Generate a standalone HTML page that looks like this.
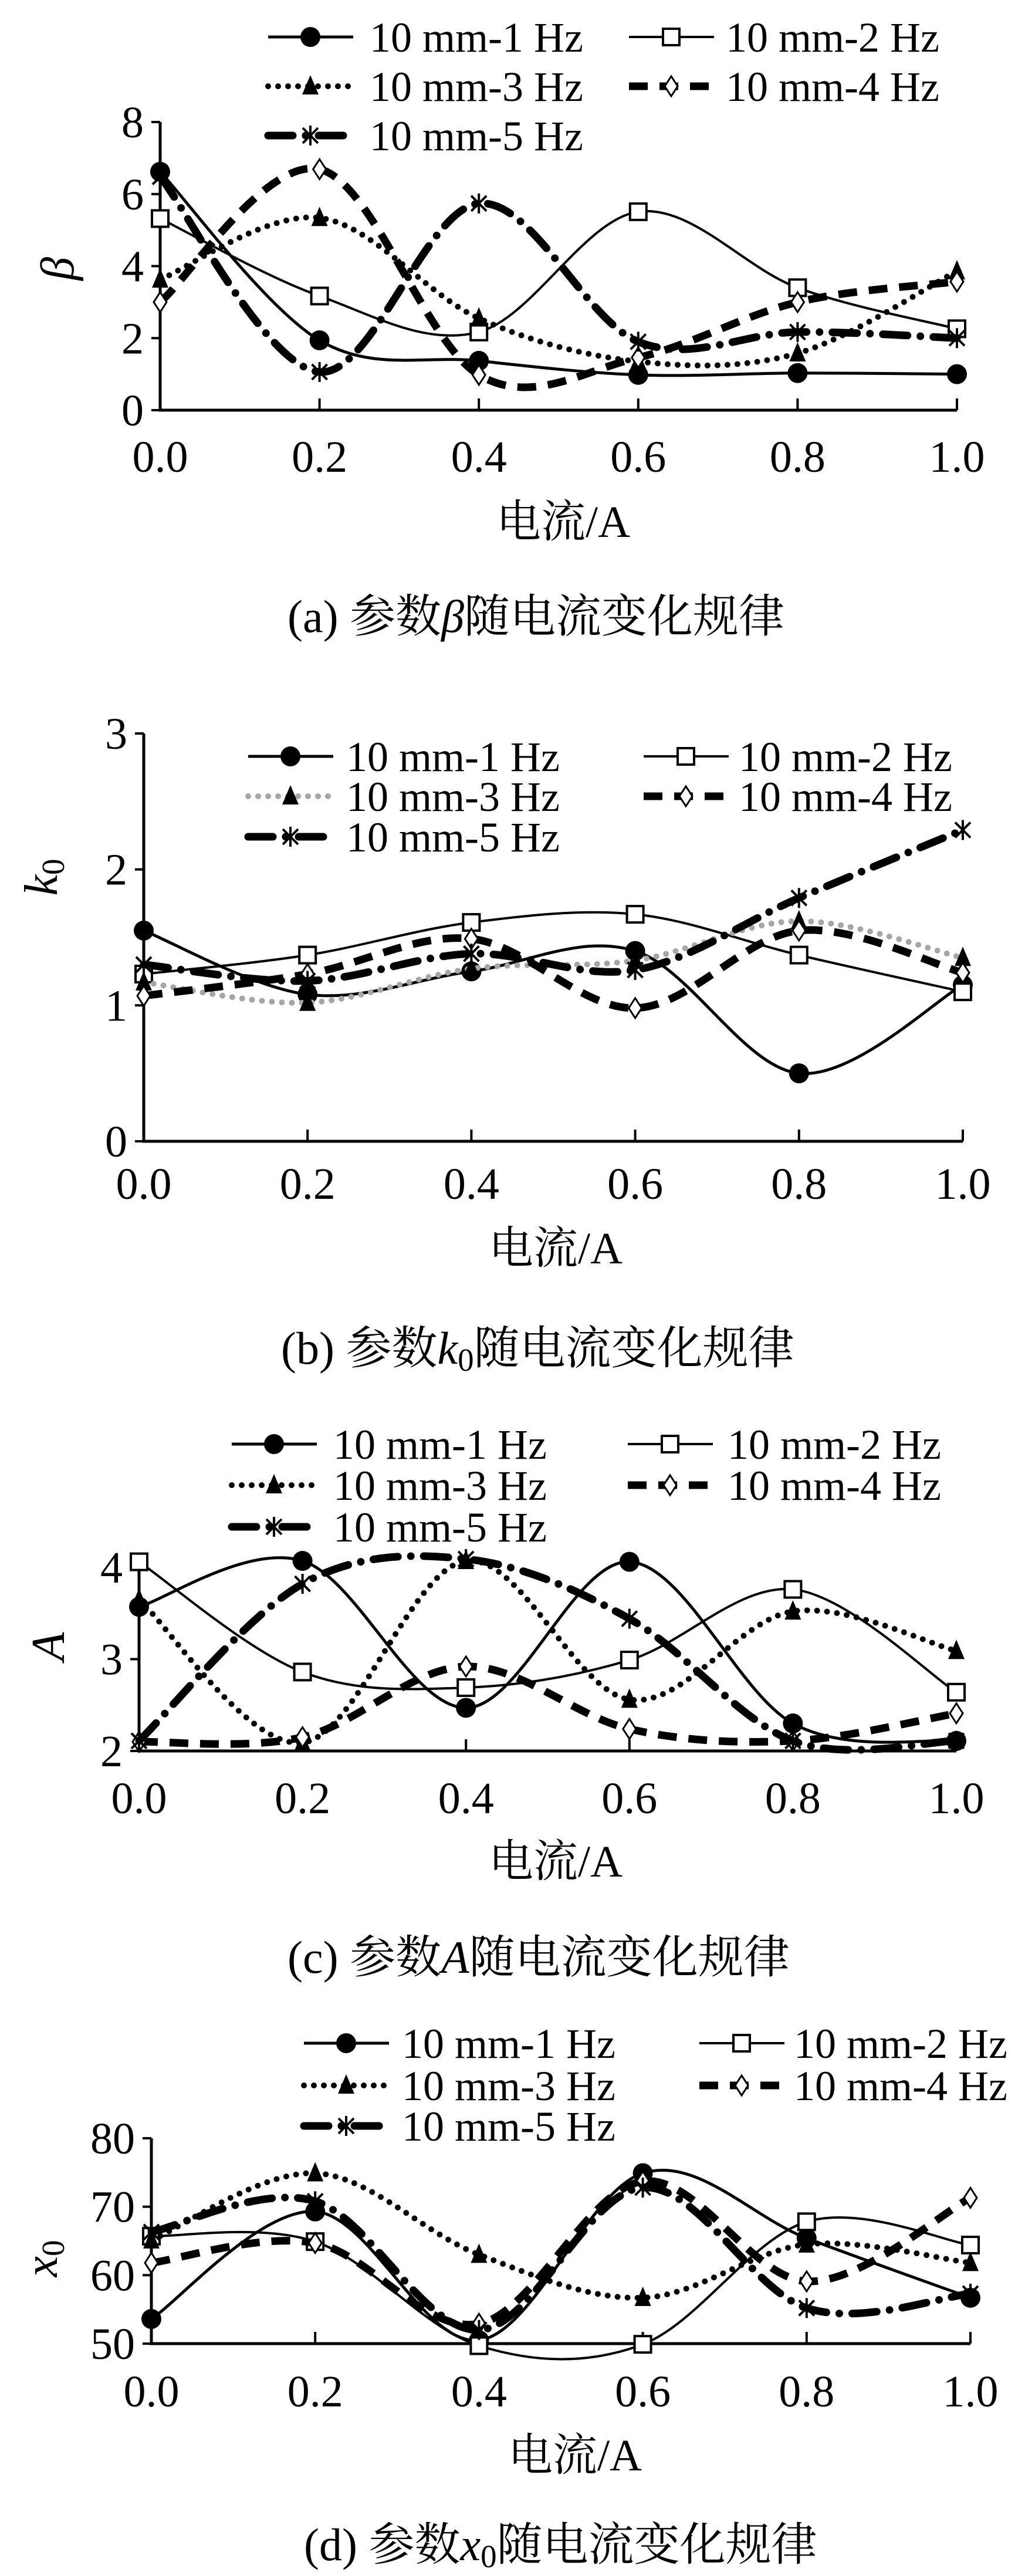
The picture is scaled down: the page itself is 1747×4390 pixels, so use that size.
<!DOCTYPE html>
<html><head><meta charset="utf-8"><style>
html,body{margin:0;padding:0;background:#fff;}
svg{display:block;}
text{font-family:"Liberation Serif","Noto Serif CJK SC","Noto Sans CJK SC",serif;fill:#000;}
</style></head><body>
<svg id="fig" width="1747" height="4390" viewBox="0 0 1747 4390" xmlns="http://www.w3.org/2000/svg"></svg>
<script>
const xCats = [0.0, 0.2, 0.4, 0.6, 0.8, 1.0];
const xTickLabels = ["0.0","0.2","0.4","0.6","0.8","1.0"];
const seriesNames = ["10 mm-1 Hz","10 mm-2 Hz","10 mm-3 Hz","10 mm-4 Hz","10 mm-5 Hz"];

const betaS1 = [6.62, 1.94, 1.37, 0.98, 1.03, 1.0];
const betaS2 = [5.32, 3.17, 2.17, 5.51, 3.4, 2.26];
const betaS3 = [3.63, 5.34, 2.55, 1.35, 1.58, 3.86];
const betaS4 = [3.0, 6.69, 0.98, 1.46, 3.0, 3.57];
const betaS5 = [6.48, 1.06, 5.74, 1.9, 2.17, 2.0];
const betaTicks = [0, 2, 4, 6, 8];

const k0S1 = [1.55, 1.08, 1.25, 1.40, 0.5, 1.15];
const k0S2 = [1.23, 1.37, 1.61, 1.67, 1.37, 1.10];
const k0S3 = [1.17, 1.02, 1.27, 1.33, 1.62, 1.35];
const k0S4 = [1.07, 1.23, 1.49, 0.98, 1.55, 1.24];
const k0S5 = [1.30, 1.18, 1.38, 1.26, 1.79, 2.29];
const k0Ticks = [0, 1, 2, 3];

const aS1 = [3.57, 4.07, 2.47, 4.06, 2.30, 2.11];
const aS2 = [4.06, 2.86, 2.69, 2.99, 3.76, 2.64];
const aS3 = [3.65, 2.09, 4.07, 2.56, 3.52, 3.09];
const aS4 = [2.10, 2.15, 2.92, 2.24, 2.11, 2.41];
const aS5 = [2.11, 3.82, 4.09, 3.44, 2.11, 2.11];
const aTicks = [2, 3, 4];

const x0S1 = [53.6, 69.3, 50.5, 74.9, 65.4, 56.7];
const x0S2 = [65.7, 64.9, 49.7, 49.9, 67.8, 64.4];
const x0S3 = [65.1, 74.9, 63.0, 56.7, 64.5, 61.8];
const x0S4 = [61.8, 64.7, 52.9, 73.7, 59.1, 71.3];
const x0S5 = [66.3, 70.8, 52.0, 72.8, 55.2, 57.3];
const x0Ticks = [50, 60, 70, 80];

const NS = "http://www.w3.org/2000/svg";
const svg = document.getElementById("fig");
function mk(tag, attrs, parent) {
  const e = document.createElementNS(NS, tag);
  for (const k in attrs) e.setAttribute(k, attrs[k]);
  (parent || svg).appendChild(e);
  return e;
}
const styles = [
  {stroke:"#000", w:5, dash:null, cap:"butt", marker:"circle"},
  {stroke:"#000", w:4, dash:null, cap:"butt", marker:"square"},
  {stroke:"#000", w:10, dash:"0 17", cap:"round", marker:"triangle"},
  {stroke:"#000", w:13, dash:"32 20", cap:"butt", marker:"diamond"},
  {stroke:"#000", w:13, dash:"42 22 0 22", cap:"round", marker:"star"}
];
function drawMarker(g, type, x, y) {
  if (type === "circle") mk("circle", {cx:x, cy:y, r:17, fill:"#000"}, g);
  else if (type === "square") mk("rect", {x:x-14, y:y-14, width:28, height:28, fill:"#fff", stroke:"#000", "stroke-width":4}, g);
  else if (type === "triangle") mk("polygon", {points:`${x},${y-19} ${x+14},${y+14} ${x-14},${y+14}`, fill:"#000"}, g);
  else if (type === "diamond") mk("polygon", {points:`${x},${y-17} ${x+11},${y} ${x},${y+17} ${x-11},${y}`, fill:"#fff", stroke:"#000", "stroke-width":3}, g);
  else if (type === "star") {
    mk("path", {d:`M${x-13},${y-13}L${x+13},${y+13}M${x+13},${y-13}L${x-13},${y+13}M${x},${y-17}L${x},${y+17}`, stroke:"#000", "stroke-width":4, fill:"none"}, g);
  }
}
function smoothPath(pts) {
  let d = `M${pts[0][0]},${pts[0][1]}`;
  for (let i = 0; i < pts.length - 1; i++) {
    const p0 = pts[Math.max(0, i-1)], p1 = pts[i], p2 = pts[i+1], p3 = pts[Math.min(pts.length-1, i+2)];
    const c1 = [p1[0] + (p2[0]-p0[0])/6, p1[1] + (p2[1]-p0[1])/6];
    const c2 = [p2[0] - (p3[0]-p1[0])/6, p2[1] - (p3[1]-p1[1])/6];
    d += `C${c1[0]},${c1[1]} ${c2[0]},${c2[1]} ${p2[0]},${p2[1]}`;
  }
  return d;
}
function drawChart(cfg) {
  const g = mk("g", {});
  
  
  const xs = v => cfg.x0 + (v - xCats[0]) / (xCats[xCats.length-1] - xCats[0]) * (cfg.x1 - cfg.x0);
  const ys = v => cfg.yBase - (v - cfg.yMin) / (cfg.yMax - cfg.yMin) * (cfg.yBase - cfg.yTop);
  // axes
  const ax = mk("path", {d:`M${cfg.x0},${cfg.axisTop}L${cfg.x0},${cfg.yBase}L${cfg.x1},${cfg.yBase}`, stroke:"#000", "stroke-width":5, fill:"none"}, g);
  
  
  cfg.ticks.forEach(t => {
    const y = ys(t);
    mk("line", {x1:cfg.x0-15, y1:y, x2:cfg.x0, y2:y, stroke:"#000", "stroke-width":4}, g);
    const tl = mk("text", {x:cfg.x0-28, y:y+26, "font-size":76, "text-anchor":"end"}, g);
    tl.textContent = String(t);
    
    
  });
  xCats.forEach((c, i) => {
    const x = xs(c);
    mk("line", {x1:x, y1:cfg.yBase, x2:x, y2:cfg.yBase-20, stroke:"#000", "stroke-width":4}, g);
    const tl = mk("text", {x:x, y:cfg.xTickY+26, "font-size":76, "text-anchor":"middle"}, g);
    tl.textContent = xTickLabels[i];
    
    
  });
  const xt = mk("text", {x:cfg.xTitleX, y:cfg.xTitleY+27, "font-size":76, "text-anchor":"middle"}, g);
  xt.textContent = "电流/A";
  
  
  const yt = mk("text", {x:0, y:0, "font-size":80, "font-style":"italic", "text-anchor":"middle", transform:`translate(${cfg.yTitleX+25},${cfg.yTitleY}) rotate(-90)`}, g);
  yt.innerHTML = cfg.yTitle;
  
  
  // series
  cfg.series.forEach((vals, si) => {
    const st = styles[si];
    const color = (cfg.gray3 && si === 2) ? "#a6a6a6" : st.stroke;
    const sg = mk("g", {}, g);
    
    
    const pts = vals.map((v, i) => [xs(xCats[i]), ys(v)]);
    const p = mk("path", {d:smoothPath(pts), stroke:color, "stroke-width":st.w, fill:"none", "stroke-linecap":st.cap}, sg);
    if (st.dash) p.setAttribute("stroke-dasharray", st.dash);
    pts.forEach(pt => drawMarker(sg, st.marker, pt[0], pt[1]));
  });
  // legend
  const lg = mk("g", {}, g);
  
  
  seriesNames.forEach((name, si) => {
    const col = si % 2, row = Math.floor(si / 2);
    const lx = cfg.leg.lineX[col], ly = cfg.leg.rows[row];
    const st = styles[si];
    const color = (cfg.gray3 && si === 2) ? "#a6a6a6" : st.stroke;
    const eg = mk("g", {}, lg);
    
    
    const l = mk("line", {x1:lx, y1:ly, x2:lx+145, y2:ly, stroke:color, "stroke-width":st.w, "stroke-linecap":st.cap}, eg);
    if (st.dash) l.setAttribute("stroke-dasharray", st.dash);
    drawMarker(eg, st.marker, lx+72, ly);
    const t = mk("text", {x:cfg.leg.textX[col], y:ly+25, "font-size":72}, eg);
    t.textContent = name;
  });
  // caption
  const cap = mk("text", {x:cfg.capX, y:cfg.capY+27, "font-size":78}, g);
  cap.innerHTML = cfg.caption;
  
  
}

drawChart({id:"beta", x0:273, x1:1631, yBase:699, yTop:208, axisTop:208, yMin:0, yMax:8, ticks:betaTicks,
  xTickY:778, xTitleX:960, xTitleY:888, yTitleX:100, yTitleY:458, yTitle:"β",
  series:[betaS1,betaS2,betaS3,betaS4,betaS5],
  leg:{lineX:[457,1072], textX:[630,1237], rows:[63,147,231]},
  capX:490, capY:1050, caption:'(a) 参数<tspan font-style="italic">β</tspan>随电流变化规律'});

drawChart({id:"k0", x0:245, x1:1641, yBase:1945, yTop:1250, axisTop:1250, yMin:0, yMax:3, ticks:k0Ticks, gray3:true,
  xTickY:2017, xTitleX:947, xTitleY:2126, yTitleX:72, yTitleY:1495, yTitle:'k<tspan font-size="55" font-style="normal" dy="12">0</tspan>',
  series:[k0S1,k0S2,k0S3,k0S4,k0S5],
  leg:{lineX:[423,1097], textX:[590,1259], rows:[1289,1357,1426]},
  capX:479, capY:2297, caption:'(b) 参数<tspan font-style="italic">k</tspan><tspan font-size="55" dy="12">0</tspan><tspan dy="-12">随电流变化规律</tspan>'});

drawChart({id:"amp", x0:237, x1:1630, yBase:2984, yTop:2671, axisTop:2652, yMin:2, yMax:4, ticks:aTicks,
  xTickY:3064, xTitleX:947, xTitleY:3171, yTitleX:84, yTitleY:2806, yTitle:"A",
  series:[aS1,aS2,aS3,aS4,aS5],
  leg:{lineX:[395,1070], textX:[568,1240], rows:[2461,2531,2602]},
  capX:490, capY:3335, caption:'(c) 参数<tspan font-style="italic">A</tspan>随电流变化规律'});

drawChart({id:"x0", x0:258, x1:1654, yBase:3994, yTop:3644, axisTop:3644, yMin:50, yMax:80, ticks:x0Ticks,
  xTickY:4075, xTitleX:980, xTitleY:4183, yTitleX:72, yTitleY:3849, yTitle:'x<tspan font-size="55" font-style="normal" dy="12">0</tspan>',
  series:[x0S1,x0S2,x0S3,x0S4,x0S5],
  leg:{lineX:[518,1192], textX:[685,1353], rows:[3482,3554,3623]},
  capX:518, capY:4336, caption:'(d) 参数<tspan font-style="italic">x</tspan><tspan font-size="55" dy="12">0</tspan><tspan dy="-12">随电流变化规律</tspan>'});
</script>
</body></html>
